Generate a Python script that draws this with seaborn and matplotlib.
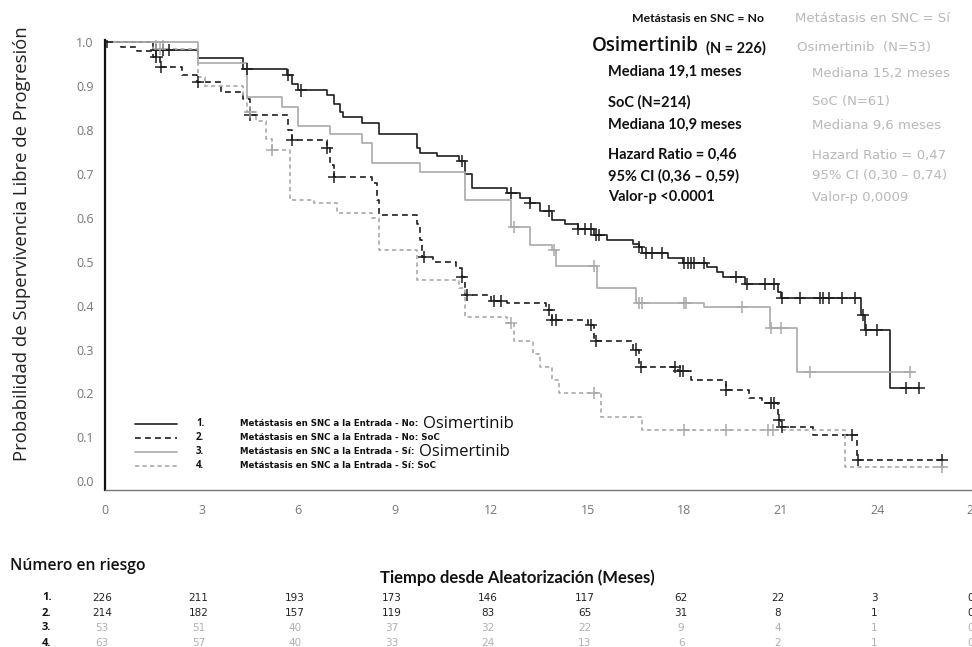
import numpy as np
import pandas as pd
import matplotlib
matplotlib.use('Agg')
import matplotlib.pyplot as plt
import matplotlib.transforms as mtrans
from matplotlib.lines import Line2D
import seaborn as sns

# --- curvas KM (tiempo del evento, supervivencia tras el escalon) ---
t_no_osi = [0, 1.5, 2.9, 4.3, 5.65, 5.8, 6.0, 6.9, 7.1, 7.3, 7.4, 8.0, 8.5, 9.7, 9.8, 10.3, 11.0, 11.2, 11.4,
            12.5, 12.9, 13.2, 13.5, 13.9, 14.3, 14.7, 15.2, 15.6, 16.4, 16.6, 16.7, 17.5, 17.95, 18.7, 19.0,
            19.2, 19.9, 20.9, 21.0, 23.5, 23.6, 24.4, 25.3]
s_no_osi = [1.0, 0.982, 0.963, 0.94, 0.925, 0.905, 0.89, 0.88, 0.86, 0.84, 0.83, 0.815, 0.79, 0.76, 0.747, 0.74,
            0.73, 0.70, 0.667, 0.656, 0.645, 0.633, 0.615, 0.595, 0.585, 0.575, 0.56, 0.549, 0.54, 0.533, 0.52,
            0.508, 0.497, 0.487, 0.476, 0.465, 0.45, 0.43, 0.417, 0.378, 0.344, 0.212, 0.212]
c_no_osi = [0.05, 1.6, 1.8, 2.0, 4.4, 5.7, 6.1, 11.1, 12.6, 13.2, 13.8, 14.7, 14.9, 15.1, 15.25, 15.35, 16.6, 16.8,
            17.0, 17.3, 18.0, 18.1, 18.2, 18.3, 18.6, 19.6, 19.95, 20.5, 20.8, 21.05, 21.6, 22.2, 22.3, 22.5,
            22.9, 23.3, 23.55, 23.65, 24.0, 24.9, 25.3]

t_no_soc = [0, 0.5, 1.0, 1.5, 1.7, 2.4, 2.86, 3.6, 4.3, 4.5, 5.7, 5.8, 6.9, 7.0, 7.1, 8.3, 8.45, 8.5, 9.7, 9.8,
            9.85, 10.2, 10.9, 11.1, 11.2, 12.0, 12.5, 13.7, 13.9, 15.0, 15.2, 16.4, 16.6, 17.8, 18.2, 19.3, 20.0,
            20.4, 20.9, 21.0, 22.0, 23.35, 26.1]
s_no_soc = [1.0, 0.99, 0.98, 0.966, 0.943, 0.925, 0.909, 0.886, 0.87, 0.834, 0.80, 0.777, 0.758, 0.72, 0.692,
            0.68, 0.64, 0.606, 0.585, 0.55, 0.51, 0.50, 0.485, 0.465, 0.424, 0.41, 0.405, 0.39, 0.367, 0.355,
            0.32, 0.30, 0.26, 0.25, 0.23, 0.207, 0.19, 0.178, 0.14, 0.123, 0.105, 0.048, 0.048]
c_no_soc = [1.6, 1.75, 2.9, 4.5, 5.8, 6.9, 7.1, 9.9, 11.1, 11.25, 12.1, 12.3, 13.8, 13.9, 14.0, 15.1, 15.25, 16.5,
            16.65, 17.7, 17.85, 17.95, 19.3, 20.7, 20.8, 20.95, 21.05, 23.2, 23.4, 26.0]

t_si_osi = [0, 2.9, 4.4, 5.5, 6.0, 7.0, 8.0, 8.3, 9.8, 11.2, 12.6, 13.2, 13.9, 14.0, 15.3, 16.5, 18.6, 20.65,
            21.5, 25.1]
s_si_osi = [1.0, 0.952, 0.875, 0.852, 0.81, 0.79, 0.77, 0.724, 0.704, 0.64, 0.58, 0.537, 0.526, 0.49, 0.44, 0.405,
            0.397, 0.35, 0.248, 0.248]
c_si_osi = [1.6, 1.8, 12.7, 13.95, 15.2, 16.6, 16.7, 18.0, 18.05, 19.8, 20.7, 21.0, 21.9, 25.0]

t_si_soc = [0, 1.5, 2.9, 3.1, 4.3, 4.4, 4.7, 5.0, 5.2, 5.75, 6.5, 7.2, 8.3, 8.5, 9.7, 11.0, 11.2, 12.5, 12.7,
            13.3, 13.5, 13.9, 14.1, 15.4, 16.7, 23.0, 26.1]
s_si_soc = [1.0, 0.984, 0.92, 0.90, 0.88, 0.84, 0.82, 0.78, 0.754, 0.64, 0.633, 0.61, 0.60, 0.526, 0.458, 0.44,
            0.373, 0.36, 0.32, 0.29, 0.26, 0.23, 0.20, 0.146, 0.116, 0.032, 0.032]
c_si_soc = [1.7, 4.5, 5.2, 12.6, 15.2, 18.0, 19.3, 20.6, 20.75, 26.0]

grupos = ['1', '2', '3', '4']
tiempos = [t_no_osi, t_no_soc, t_si_osi, t_si_soc]
survs = [s_no_osi, s_no_soc, s_si_osi, s_si_soc]
censuras = [c_no_osi, c_no_soc, c_si_osi, c_si_soc]

meses = [0, 3, 6, 9, 12, 15, 18, 21, 24, 27]
riesgo = {'1': [226, 211, 193, 173, 146, 117, 62, 22, 3, 0],
          '2': [214, 182, 157, 119, 83, 65, 31, 8, 1, 0],
          '3': [53, 51, 40, 37, 32, 22, 9, 4, 1, 0],
          '4': [63, 57, 40, 33, 24, 13, 6, 2, 1, 0]}

negro = '#1e1e1e'
gris = '#a9a9a9'
pal = {'1': negro, '2': negro, '3': gris, '4': gris}
dashes = {'1': '', '2': (3.5, 2.5), '3': '', '4': (2.5, 2.0)}

# tablas largas
df = pd.concat([pd.DataFrame({'t': t, 's': s, 'grupo': g}) for g, t, s in zip(grupos, tiempos, survs)])
cens = []
for g, t, s, c in zip(grupos, tiempos, survs, censuras):
    idx = np.searchsorted(t, c, side='right') - 1
    cens.append(pd.DataFrame({'t': c, 's': np.array(s)[idx], 'grupo': g}))
dfc = pd.concat(cens)

sns.set_style('white')
plt.rcParams['font.family'] = ['Open Sans', 'DejaVu Sans']

W, H = 972, 647
fig = plt.figure(figsize=(W / 100, H / 100), dpi=100)
ax = fig.add_axes([105 / W, 157 / H, 869 / W, 450 / H])

sns.lineplot(data=df, x='t', y='s', hue='grupo', style='grupo', palette=pal, dashes=dashes,
             estimator=None, sort=False, drawstyle='steps-post', linewidth=1.2, legend=False, ax=ax)
sns.scatterplot(data=dfc, x='t', y='s', hue='grupo', palette=pal, marker='+', s=75, linewidth=1.1,
                legend=False, ax=ax, zorder=3)

ax.set_xlim(0, 27)
ax.set_ylim(-0.02, 1.005)
ax.set_xticks(meses)
ax.set_xticks(np.arange(0, 28, 1), minor=True)
ax.set_yticks(np.round(np.arange(0, 1.01, 0.1), 1))
ax.set_yticks(np.arange(0, 1.001, 0.02), minor=True)
ax.set_yticklabels(['%.1f' % v for v in np.arange(0, 1.01, 0.1)])
ax.tick_params(axis='both', which='major', direction='out', length=5, width=1, colors='#555555',
               labelsize=9, labelcolor='#777777')
ax.tick_params(axis='both', which='minor', direction='out', length=3, width=0.8, colors='#555555')
ax.tick_params(axis='x', pad=5)
ax.tick_params(axis='y', pad=3)
ax.set_xlabel('')
ax.set_ylabel('')
for sp in ['top', 'right']:
    ax.spines[sp].set_visible(False)
ax.spines['left'].set_color('#111111')
ax.spines['left'].set_linewidth(1.6)
ax.spines['bottom'].set_color('#777777')
ax.spines['bottom'].set_linewidth(1.0)


def fx(x):
    return x / W


def fy(y):
    return 1 - y / H


fig.text(fx(22), fy(244), 'Probabilidad de Supervivencia Libre de Progresión', rotation=90,
         ha='center', va='center', fontsize=13.3, color='#222222')

# leyenda
ley_y = [424, 438, 452, 466]
ley_txt = ['Metástasis en SNC a la Entrada - No:', 'Metástasis en SNC a la Entrada - No: SoC',
           'Metástasis en SNC a la Entrada - Sí:', 'Metástasis en SNC a la Entrada - Sí: SoC']
renderer = fig.canvas.get_renderer()
for i, g in enumerate(grupos):
    y = ley_y[i]
    ln = Line2D([fx(135), fx(177)], [fy(y), fy(y)], transform=fig.transFigure, color=pal[g],
                linewidth=1.2, linestyle='-' if dashes[g] == '' else (0, dashes[g]))
    fig.add_artist(ln)
    fig.text(fx(196), fy(y), g + '.', fontsize=7, fontweight='bold', va='center', color='#111111')
    tx = fig.text(fx(240), fy(y), ley_txt[i], fontsize=6.2, va='center', color='#111111',
                  family=['Liberation Sans Narrow', 'DejaVu Sans'], fontweight='bold')
    if i in (0, 2):
        bb = tx.get_window_extent(renderer)
        fig.text(fx(bb.x1 + 5), fy(y), 'Osimertinib', fontsize=12, va='center', color='#111111')

# anotaciones
bold = dict(family=['Lato', 'DejaVu Sans'], fontweight='bold', color='#111111', va='center', fontsize=10.5)
light = dict(family=['DejaVu Sans'], color='#b8b8b8', va='center', fontsize=9.5)
fig.text(fx(632), fy(19), 'Metástasis en SNC = No', **dict(bold, fontsize=8.8))
fig.text(fx(795), fy(19), 'Metástasis en SNC = Sí', **light)
fig.text(fx(592), fy(46), 'Osimertinib', fontsize=13.5, color='#111111', va='center',
         family=['Open Sans', 'DejaVu Sans'], fontweight='semibold')
fig.text(fx(706), fy(48), '(N = 226)', **bold)
fig.text(fx(608), fy(72), 'Mediana 19,1 meses', **bold)
fig.text(fx(608), fy(102), 'SoC (N=214)', **bold)
fig.text(fx(608), fy(125), 'Mediana 10,9 meses', **bold)
fig.text(fx(608), fy(155), 'Hazard Ratio = 0,46', **bold)
fig.text(fx(608), fy(176), '95% CI (0,36 – 0,59)', **bold)
fig.text(fx(608), fy(197), 'Valor-p <0.0001', **bold)
fig.text(fx(797), fy(48), 'Osimertinib  (N=53)', **light)
fig.text(fx(812), fy(73), 'Mediana 15,2 meses', **light)
fig.text(fx(812), fy(102), 'SoC (N=61)', **light)
fig.text(fx(812), fy(125), 'Mediana 9,6 meses', **light)
fig.text(fx(812), fy(155), 'Hazard Ratio = 0,47', **light)
fig.text(fx(812), fy(176), '95% CI (0,30 – 0,74)', **light)
fig.text(fx(812), fy(197), 'Valor-p 0,0009', **light)

# tabla de riesgo
fig.text(fx(10), fy(566), 'Número en riesgo', fontsize=11.3, fontweight='semibold', va='center',
         color='#111111')
fig.text(fx(517), fy(578), 'Tiempo desde Aleatorización (Meses)', fontsize=12, fontweight='bold',
         ha='center', va='center', color='#111111', family=['Lato', 'DejaVu Sans'])
trans = mtrans.blended_transform_factory(ax.transData, fig.transFigure)
fila_y = [598, 613, 628, 643]
for i, g in enumerate(grupos):
    fig.text(fx(42), fy(fila_y[i]), g + '.', fontsize=8, fontweight='bold', va='center', color='#111111')
    col = '#222222' if g in ('1', '2') else '#b0b0b0'
    for m, n in zip(meses, riesgo[g]):
        ax.text(m - 0.1, fy(fila_y[i]), str(n), transform=trans, fontsize=7.5, ha='center', va='center',
                color=col, family=['Liberation Sans Narrow', 'DejaVu Sans'], clip_on=False)

fig.savefig('out.png', dpi=100)
